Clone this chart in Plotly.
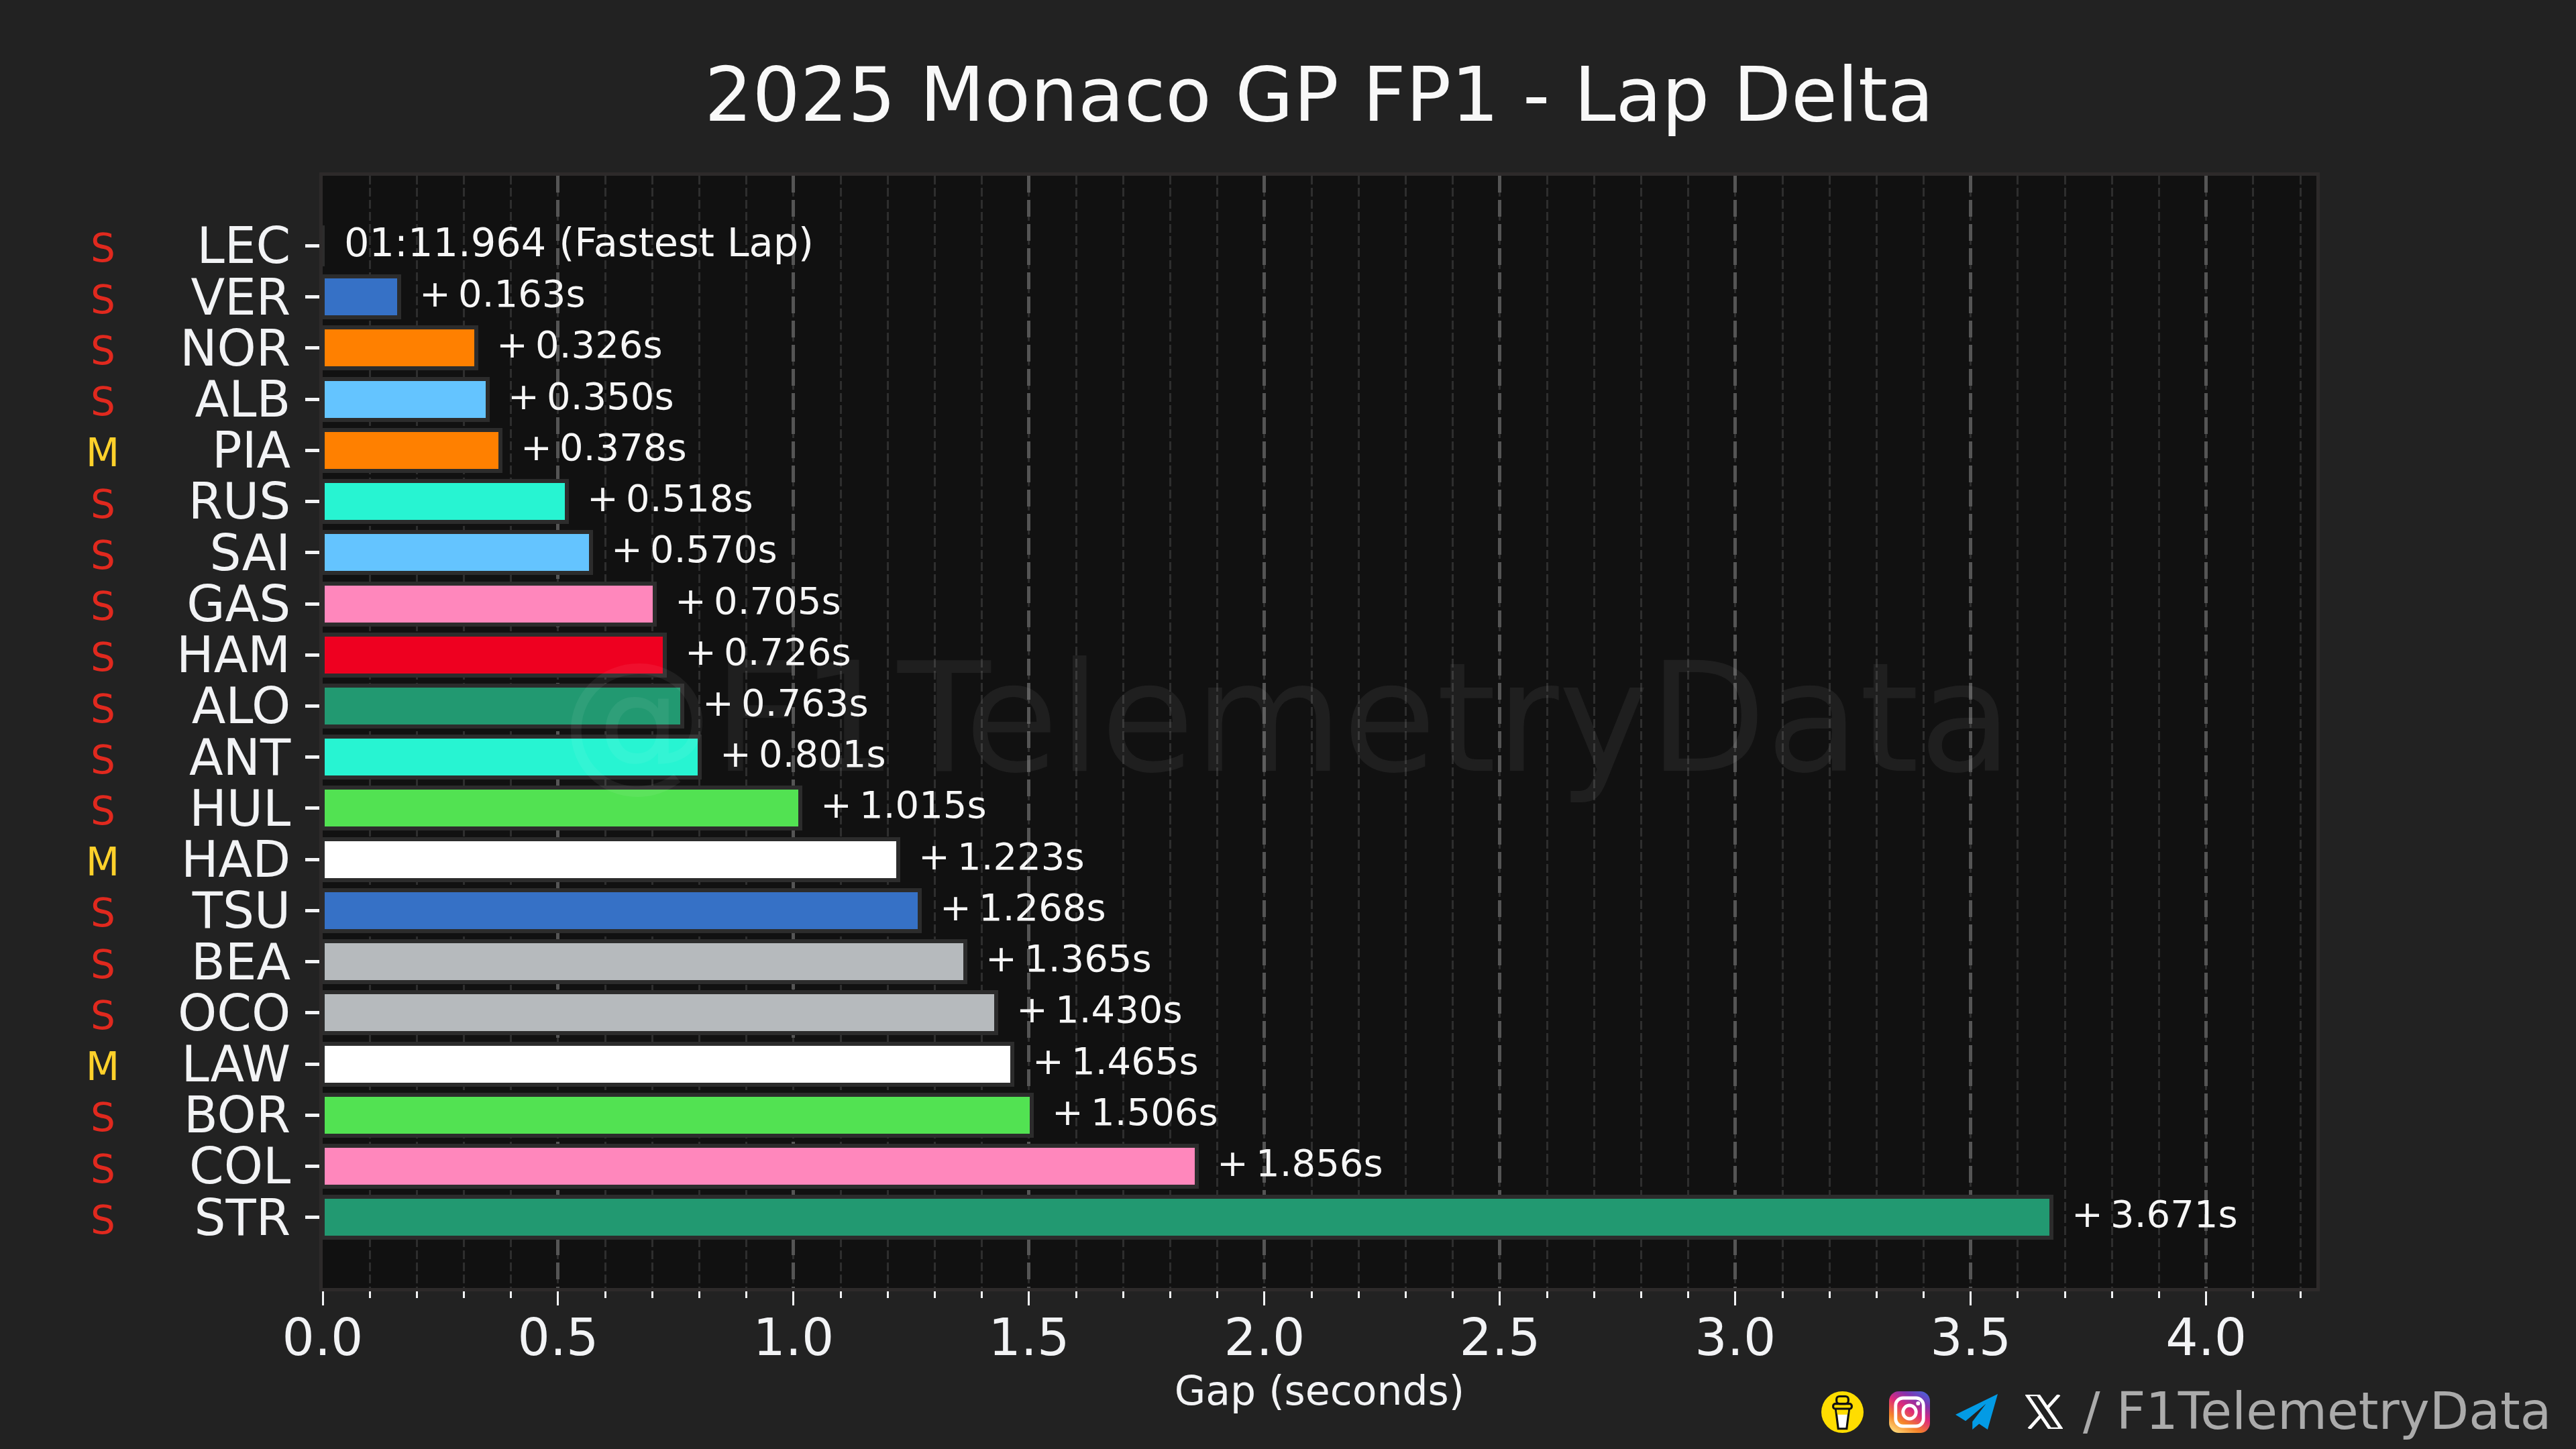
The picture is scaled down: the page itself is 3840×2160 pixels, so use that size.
import base64
import plotly.graph_objects as go

TITLE = "2025 Monaco GP FP1 - Lap Delta"
drivers = ["LEC","VER","NOR","ALB","PIA","RUS","SAI","GAS","HAM","ALO","ANT","HUL","HAD","TSU","BEA","OCO","LAW","BOR","COL","STR"]
gaps = [0,0.163,0.326,0.350,0.378,0.518,0.570,0.705,0.726,0.763,0.801,1.015,1.223,1.268,1.365,1.430,1.465,1.506,1.856,3.671]
compounds = ["S","S","S","S","M","S","S","S","S","S","S","S","M","S","S","S","M","S","S","S"]
bar_colors = ["#DC0000","#3671C6","#FF8000","#64C4FF","#FF8000","#27F4D2","#64C4FF","#FF87BC","#EE0020","#229971",
              "#27F4D2","#52E252","#FFFFFF","#3671C6","#B6BABD","#B6BABD","#FFFFFF","#52E252","#FF87BC","#229971"]
compound_colors = {"S": "#E0291E", "M": "#FFD12B"}
fastest_label = "01:11.964 (Fastest Lap)"
x_ticks = [0.0,0.5,1.0,1.5,2.0,2.5,3.0,3.5,4.0]

FONT = "DejaVu Sans"
TXT = "#F2F3F5"
W, H = 3840, 2160
L, R, T, B = 481, 3453, 262, 1920

def px(x): return (x - L) / (R - L)
def py(y): return (B - y) / (B - T)

def svg_uri(body, vb):
    s = f'<svg xmlns="http://www.w3.org/2000/svg" viewBox="{vb}" preserveAspectRatio="none">{body}</svg>'
    return "data:image/svg+xml;base64," + base64.b64encode(s.encode()).decode()

coffee = ('<ellipse cx="50" cy="50" rx="50" ry="50" fill="#FFDD00"/>'
          '<path d="M34 42 L66 42 L60 90 L40 90 Z" fill="#fff" stroke="#111" stroke-width="5"/>'
          '<path d="M36 42 L64 42 L62 56 L38 56 Z" fill="#FFDD00"/>'
          '<rect x="28" y="30" width="44" height="12" rx="5" fill="#FFDD00" stroke="#111" stroke-width="5"/>'
          '<rect x="36" y="12" width="28" height="18" rx="7" fill="#FFDD00" stroke="#111" stroke-width="5"/>')
insta = ('<defs><linearGradient id="g" x1="0.2" y1="1" x2="0.8" y2="0">'
         '<stop offset="0" stop-color="#FED373"/><stop offset="0.25" stop-color="#F58529"/>'
         '<stop offset="0.55" stop-color="#DD2A7B"/><stop offset="0.8" stop-color="#8134AF"/>'
         '<stop offset="1" stop-color="#515BD4"/></linearGradient></defs>'
         '<rect width="100" height="100" rx="24" fill="url(#g)"/>'
         '<rect x="16" y="16" width="68" height="68" rx="18" fill="none" stroke="#fff" stroke-width="8"/>'
         '<circle cx="50" cy="50" r="16" fill="none" stroke="#fff" stroke-width="8"/>'
         '<circle cx="71" cy="29" r="5" fill="#fff"/>')
telegram = '<path d="M100 0 L0 58 L24 76 L72 28 L40 78 L40 100 L56 84 L76 100 Z" fill="#039BE5"/>'
xlogo = ('<path d="M4 0 L34 0 L96 100 L66 100 Z" fill="none" stroke="#fff" stroke-width="9"/>'
         '<path d="M90 0 L56 42 M10 100 L44 58" fill="none" stroke="#fff" stroke-width="9"/>')

icons = [(coffee, 2715, 2074, 63, 62), (insta, 2816, 2074, 61, 62),
         (telegram, 2915, 2078, 63, 53), (xlogo, 3019, 2079, 56, 51)]

images = [dict(source=svg_uri(b, "0 0 100 100"), xref="paper", yref="paper", x=px(x), y=py(y),
               sizex=w / (R - L), sizey=h / (B - T), sizing="stretch", xanchor="left", yanchor="top", layer="above")
          for b, x, y, w, h in icons]

annotations = []
for d, g in zip(drivers, gaps):
    is_fastest = g == 0
    label = fastest_label if is_fastest else f"+\u2009{g:.3f}s"
    annotations.append(dict(x=g, y=d, xref="x", yref="y", text=label, showarrow=False, xanchor="left",
                            xshift=30 if is_fastest else 28, yshift=5,
                            font=dict(family=FONT, size=59 if is_fastest else 56, color="#F6F6F6")))
for d, c in zip(drivers, compounds):
    annotations.append(dict(x=px(153), y=d, xref="paper", yref="y", text=c, showarrow=False,
                            xanchor="center", yshift=-4,
                            font=dict(family=FONT, size=58, color=compound_colors[c])))
annotations.append(dict(x=px(1918), y=py(1070), xref="paper", yref="paper", text="@F1TelemetryData",
                        showarrow=False, xanchor="center", yanchor="middle",
                        font=dict(family=FONT, size=227, color="rgba(255,255,255,0.06)")))
annotations.append(dict(x=px(3103), y=py(2103), xref="paper", yref="paper", text="/ F1TelemetryData",
                        showarrow=False, xanchor="left", yanchor="middle",
                        font=dict(family=FONT, size=76, color="#ABABAB")))

fig = go.Figure(go.Bar(
    y=drivers, x=gaps, orientation="h", width=0.8,
    marker=dict(color=bar_colors, line=dict(color="#2C2C2C", width=6)),
    hoverinfo="skip",
))

fig.update_layout(
    width=W, height=H, autosize=False,
    paper_bgcolor="#222222", plot_bgcolor="#111111",
    margin=dict(l=L, r=W - R, t=T, b=H - B, autoexpand=False),
    showlegend=False, bargap=0,
    font=dict(family=FONT, color=TXT),
    title=dict(text=TITLE, x=0.5121, xanchor="center", y=0.935, yanchor="middle",
               font=dict(family=FONT, size=112, color="#F8F8F8")),
    xaxis=dict(
        range=[0, 4.234], tickvals=x_ticks, ticktext=[f"{v:.1f}" for v in x_ticks],
        showline=True, linecolor="#2D2A2A", linewidth=5, mirror=True, zeroline=False,
        ticks="outside", ticklen=21, tickwidth=3, tickcolor=TXT,
        tickfont=dict(family=FONT, size=76, color=TXT), ticklabelstandoff=-17,
        showgrid=True, gridcolor="#555555", gridwidth=5, griddash="25px,11px",
        minor=dict(dtick=0.1, tick0=0, ticks="outside", ticklen=10, tickwidth=3, tickcolor=TXT,
                   showgrid=True, gridcolor="#2E2E2E", gridwidth=3, griddash="13px,5px"),
        title=dict(text="Gap (seconds)", standoff=0, font=dict(family=FONT, size=60, color=TXT)),
    ),
    yaxis=dict(
        type="category", categoryorder="array", categoryarray=drivers, range=[20.38, -1.37],
        tickmode="array", tickvals=drivers, ticktext=drivers,
        showline=True, linecolor="#2D2A2A", linewidth=5, mirror=True, zeroline=False, showgrid=False,
        ticks="outside", ticklen=21, tickwidth=5, tickcolor=TXT,
        tickfont=dict(family=FONT, size=74, color=TXT), ticklabelstandoff=7,
    ),
    annotations=annotations, images=images,
)

fig.write_html("out.html", config={"displayModeBar": False},
               post_script="document.documentElement.style.background='#222222';document.body.style.margin='0';document.body.style.overflow='hidden';document.body.style.background='#222222';")
